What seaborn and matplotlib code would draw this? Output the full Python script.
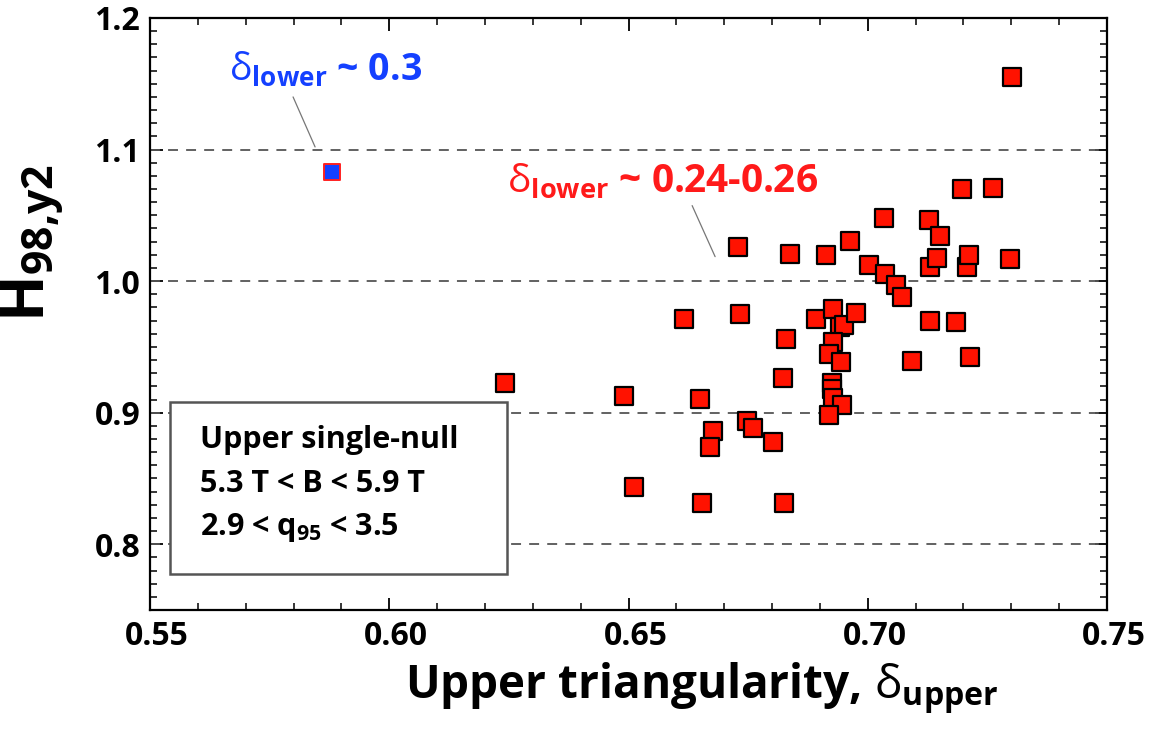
import matplotlib
matplotlib.use("Agg")
import matplotlib.pyplot as plt
import matplotlib.transforms as mtrans
from matplotlib.patches import Rectangle
import seaborn as sns
import pandas as pd
from matplotlib.ticker import MultipleLocator, FixedLocator

# ---- data ----
red_x = [0.6242, 0.6491, 0.6511, 0.6616, 0.6649, 0.6654, 0.6676, 0.6670, 0.6728, 0.6733,
         0.6747, 0.6760, 0.6801, 0.6822, 0.6824, 0.6830, 0.6838, 0.6891, 0.6913, 0.6928,
         0.6942, 0.6950, 0.6928, 0.6920, 0.6945, 0.6925, 0.6926, 0.6928, 0.6947, 0.6920,
         0.6963, 0.6975, 0.7003, 0.7033, 0.7036, 0.7060, 0.7071, 0.7092, 0.7127, 0.7130,
         0.7144, 0.7152, 0.7130, 0.7184, 0.7198, 0.7207, 0.7212, 0.7214, 0.7261, 0.7297,
         0.7301]
red_y = [0.9226, 0.9128, 0.8438, 0.9715, 0.9103, 0.8317, 0.8857, 0.8742, 1.0258, 0.9751,
         0.8940, 0.8887, 0.8780, 0.9267, 0.8312, 0.9558, 1.0204, 0.9710, 1.0197, 0.9786,
         0.9654, 0.9670, 0.9540, 0.9447, 0.9384, 0.9224, 0.9180, 0.9110, 0.9059, 0.8983,
         1.0305, 0.9761, 1.0125, 1.0483, 1.0055, 0.9971, 0.9878, 0.9389, 1.0465, 1.0110,
         1.0174, 1.0346, 0.9697, 0.9688, 1.0703, 1.0110, 1.0199, 0.9426, 1.0706, 1.0169,
         1.1549]
blue_x = [0.5881]
blue_y = [1.0827]

x_ticks = [0.55, 0.60, 0.65, 0.70, 0.75]
x_tick_labels = ["0.55", "0.60", "0.65", "0.70", "0.75"]
y_ticks = [0.8, 0.9, 1.0, 1.1, 1.2]
y_tick_labels = ["0.8", "0.9", "1.0", "1.1", "1.2"]
grid_levels = [0.8, 0.9, 1.0, 1.1]
box_lines = ["Upper single-null", "5.3 T < B < 5.9 T", r"2.9 < q$_{\mathbf{95}}$ < 3.5"]

sns.set_style("ticks")
FONT = "Open Sans"
plt.rcParams["font.family"] = [FONT, "DejaVu Sans"]
plt.rcParams["mathtext.fontset"] = "custom"
plt.rcParams["mathtext.rm"] = FONT
plt.rcParams["mathtext.bf"] = FONT + ":bold"
plt.rcParams["mathtext.it"] = FONT + ":italic"
for k in ["text.color", "axes.labelcolor", "xtick.color", "ytick.color",
          "xtick.labelcolor", "ytick.labelcolor"]:
    plt.rcParams[k] = "black"

fig = plt.figure(figsize=(11.59, 7.29), dpi=100)
ax = fig.add_axes([150 / 1159, 1 - 610 / 729, (1107 - 150) / 1159, (610 - 18) / 729])

for g in grid_levels:
    ax.axhline(g, color="#555555", lw=1.3, ls=(0, (5.5, 4.5)), zorder=1)

df_red = pd.DataFrame({"x": red_x, "y": red_y})
df_blue = pd.DataFrame({"x": blue_x, "y": blue_y})
sns.scatterplot(data=df_red, x="x", y="y", ax=ax, marker="s", s=150,
                color="#ff1200", edgecolor="black", linewidth=1.6, zorder=3)
sns.scatterplot(data=df_blue, x="x", y="y", ax=ax, marker="s", s=120,
                color="#1440ff", edgecolor="#ff2020", linewidth=1.4, zorder=3)

ax.set_xlim(0.55, 0.75)
ax.set_ylim(0.75, 1.2)
ax.xaxis.set_major_locator(FixedLocator(x_ticks))
ax.set_xticklabels(x_tick_labels)
ax.yaxis.set_major_locator(FixedLocator(y_ticks))
ax.set_yticklabels(y_tick_labels)
ax.xaxis.set_minor_locator(MultipleLocator(0.01))
ax.yaxis.set_minor_locator(MultipleLocator(0.01))
ax.tick_params(which="both", direction="in", top=True, right=True, color="black",
               labelcolor="black")
ax.tick_params(which="major", length=9, width=1.3, labelsize=23, pad=7)
ax.tick_params(which="minor", length=5, width=1.1)
shift = mtrans.ScaledTranslation(7 / 100, 0, fig.dpi_scale_trans)
for lab in ax.get_xticklabels():
    lab.set_fontweight("bold")
    lab.set_transform(lab.get_transform() + shift)
for lab in ax.get_yticklabels():
    lab.set_fontweight("bold")
for sp in ax.spines.values():
    sp.set_visible(True)
    sp.set_linewidth(1.6)
    sp.set_color("black")

ax.set_xlabel(r"Upper triangularity, $\mathrm{δ}_{\mathbf{upper}}$", fontsize=33,
              fontweight="bold", color="black")
ax.xaxis.set_label_coords(0.577, -0.085)
ax.set_ylabel(r"H$_{\mathbf{98{,}y2}}$", fontsize=44, fontweight="bold", color="black")
ax.yaxis.set_label_coords(-0.088, 0.62)

# annotations
ax.text(0.5866, 1.1605, r"$\mathrm{δ}_{\mathbf{lower}}$ ~ 0.3", color="#1440ff",
        fontsize=27, fontweight="bold", ha="center", va="center")
ax.plot([0.5799, 0.5845], [1.1400, 1.1020], color="#777777", lw=0.9, zorder=2)
ax.text(0.6572, 1.0754, r"$\mathrm{δ}_{\mathbf{lower}}$ ~ 0.24-0.26", color="#ff1a1a",
        fontsize=28, fontweight="bold", ha="center", va="center")
ax.plot([0.6633, 0.6681], [1.0574, 1.0186], color="#777777", lw=0.9, zorder=2)

# info box
ax.add_patch(Rectangle((0.5542, 0.7775), 0.6246 - 0.5542, 0.9082 - 0.7775,
                       facecolor="white", edgecolor="#555555", linewidth=1.8, zorder=4))
for line, yy in zip(box_lines, [0.8793, 0.8459, 0.8125]):
    ax.text(0.5604, yy, line, fontsize=22, fontweight="bold", ha="left", va="center",
            color="black", zorder=5)

fig.savefig("out.png", dpi=100)
